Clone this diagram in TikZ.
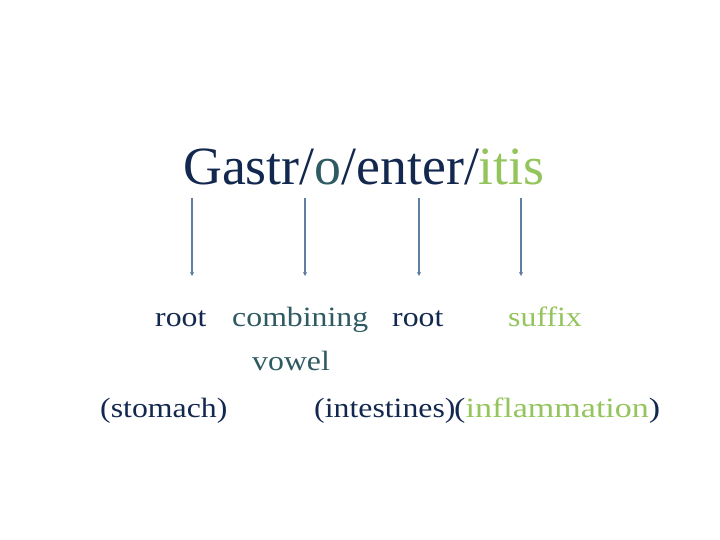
\documentclass[tikz,border=0pt]{standalone}
\usepackage{fontspec}
\setmainfont{Liberation Serif}
\usetikzlibrary{arrows.meta}
\definecolor{navy}{HTML}{13284F}
\definecolor{teal}{HTML}{2E5A62}
\definecolor{lgreen}{HTML}{94C45C}
\definecolor{arr}{HTML}{5E7FA1}
\begin{document}
\begin{tikzpicture}[x=1bp,y=-1bp,
  t/.style={anchor=base west,inner sep=0,xscale=1.14,font=\fontsize{28}{30}\selectfont},
  ar/.style={draw=arr,line width=1.1bp,-{Stealth[length=4bp,width=4bp]}}]
\useasboundingbox[fill=white] (0,0) rectangle (720,540);
\node[anchor=base west,inner sep=0,font=\fontsize{54}{58}\selectfont,text=navy] (title) at (183,185)
 {Gastr/\textcolor{teal}{o}/enter/\textcolor{lgreen}{itis}};
\coordinate (a1) at (192,198); \coordinate (b1) at (192,276);
\coordinate (a2) at (305,198); \coordinate (b2) at (305,276);
\coordinate (a3) at (419,198); \coordinate (b3) at (419,276);
\coordinate (a4) at (521,198); \coordinate (b4) at (521,276);
\foreach \i in {1,2,3,4} \draw[ar] (a\i) -- (b\i);
\node[t,text=navy] (r1) at (155,326) {root};
\node[t,text=teal] (cv) at (232,326) {combining};
\node[t,text=navy] (r2) at (392,326) {root};
\node[t,text=lgreen] (sf) at (508,326) {suffix};
\node[t,text=teal] (vw) at (252,370) {vowel};
\node[t,text=navy] (st) at (100,417) {(stomach)};
\node[t,text=navy] (in) at (314,417) {(intestines)};
\node[t,text=navy,xscale=1.07] (inf) at (454,417) {(\textcolor{lgreen}{inflammation})};
\end{tikzpicture}
\end{document}
